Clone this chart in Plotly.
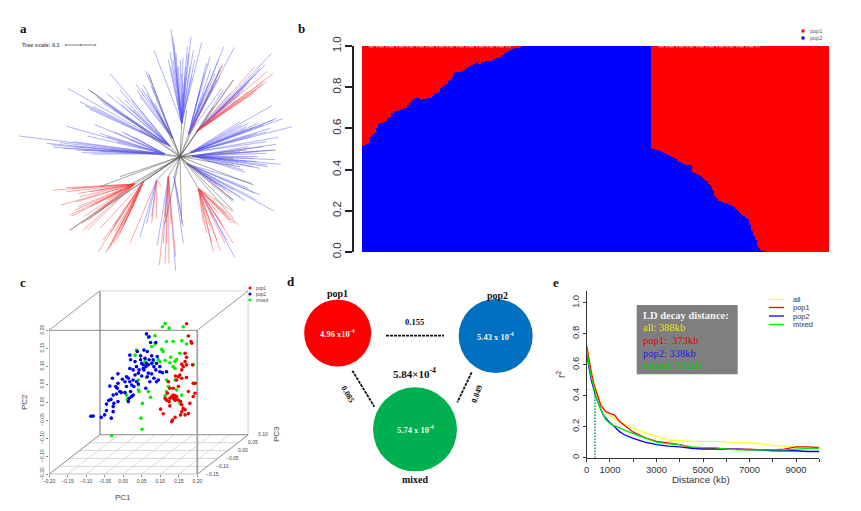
import plotly.graph_objects as go

W, H = 861, 511
SERIF = "Liberation Serif"
SANS = "Liberation Sans"

def fx(p): return p / W
def fy(p): return 1 - p / H

# ---------- panel a: unrooted tree (layout units) ----------
tree_root = (540, 440)
tree_clades = [
 ((545, 340), [(463,123),(513,58),(518,80),(522,100),(510,125),(505,150),(527,180),(541,150),(549,145),(556,170),(562,110),(573,80),(605,97),(584,150),(575,200),(565,130),(552,220),(528,130),(535,170),(545,190),(530,210),(519,150),(512,170),(580,120),(570,170),(557,200),(548,250)], []),
 ((565, 375), [(630,140),(620,160),(612,190),(671,110),(703,112),(665,165),(650,210),(640,230),(665,235),(600,280),(632,178),(655,150),(645,190),(625,220),(660,200),(610,250),(600,240)], [(668,165)]),
 ((590, 365), [(815,130),(795,165),(770,190),(750,215),(700,260),(690,250),(670,240),(780,175),(760,200),(740,225),(720,250),(730,240),(710,270)], [(765,170),(800,185),(820,190),(800,215),(785,225),(760,250),(700,210),(730,230),(790,215),(770,240),(745,245),(715,255),(680,285)]),
 ((570, 428), [(815,287),(830,325),(848,326),(877,350),(835,382),(745,340),(720,335),(740,350),(790,345),(800,365),(820,330),(775,340),(760,352),(735,360),(725,345),(810,355),(770,370),(755,380),(800,395)], []),
 ((578, 438), [(828,403),(828,420),(820,420),(775,425),(775,440),(825,449),(800,465),(842,463),(805,470),(735,487),(730,480),(700,465),(770,455),(790,410),(800,430),(760,445),(740,455),(780,475),(760,470),(720,425),(745,410),(715,455)], []),
 ((562, 462), [(755,520),(765,550),(822,603),(770,570),(735,572),(700,575),(700,540),(650,520),(745,535),(720,560),(780,555),(690,550),(675,535),(660,530)], [(700,570)]),
 ((595, 535), [(704,742),(680,690)], [(640,725),(660,720),(675,700),(700,700),(715,645),(700,605),(670,650),(635,700),(690,630),(620,670),(705,640),(610,640),(650,690),(665,640),(640,620),(680,610),(695,640),(630,650),(655,610)]),
 ((522, 500), [(550,700),(550,650),(545,620)], []),
 ((505, 500), [(527,782),(472,705),(490,700),(495,620)], [(478,765),(495,760),(507,760),(500,700),(527,740),(513,640)]),
 ((470, 510), [(420,680),(440,640),(455,620)], [(390,700),(455,640),(485,530),(470,625)]),
 ((430, 515), [], [(295,725),(318,728),(330,710),(350,690),(370,650),(385,620),(300,655),(340,650),(395,580),(325,720),(340,700),(360,670),(375,640),(310,690),(330,670),(345,665),(395,600)]),
 ((405, 522), [], [(208,662),(250,660),(262,660),(215,618),(225,600),(183,585),(157,541),(200,533),(230,575),(240,560),(270,590),(300,600),(320,570),(200,545),(210,615),(235,590),(250,620),(265,630),(280,610),(235,550),(270,545),(285,580),(310,590),(340,550),(215,535),(300,540)]),
 ((495, 432), [(58,378),(140,400),(155,405),(245,428),(275,432),(300,425),(160,412),(200,349),(262,378),(283,343),(340,365),(400,380),(350,395),(180,398),(220,410),(230,420),(300,370),(320,380),(365,365),(375,370),(390,390),(250,420),(190,415),(220,395)], []),
 ((510, 408), [(203,235),(265,238),(255,287),(270,298),(330,190),(320,250),(360,240),(290,260),(340,300),(380,320),(240,275),(280,290),(300,270),(350,260),(375,270),(395,270),(385,290),(310,280),(365,285),(400,300)], []),
 ((518, 385), [(437,183),(408,223),(425,235),(445,190),(420,260),(450,270),(480,320),(430,225),(440,250),(465,280),(455,230),(410,240)], []),
]
tree_grey_tips = [(270,242),(447,195),(700,210),(660,180),(560,300),(640,290),(700,570),(698,600),(700,625),(380,530),(210,660),(245,640),(300,530),(495,640),(545,640),(740,420),(700,445),(720,470),(600,420),(330,420),(420,360),(470,300),(360,500),(760,525)]
tree_scale_bar = (197, 287, 105)

# ---------- panel b: ancestry proportions ----------
b_pop2 = [.515,.52,.525,.53,.56,.57,.58,.60,.62,.625,
          .625,.63,.635,.65,.655,.675,.68,.685,.685,.69,
          .695,.70,.70,.715,.725,.74,.745,.75,.75,.75,
          .74,.745,.745,.75,.75,.75,.755,.765,.77,.775,
          .795,.80,.81,.815,.83,.835,.85,.87,.875,.875,
          .875,.88,.885,.895,.90,.905,.91,.915,.92,.92,
          .915,.92,.92,.925,.925,.925,.925,.93,.935,.94,
          .94,.945,.955,.965,.97,.975,.98,.985,.99,.995,.995,.998,1,1] + [1.0] * 65 + [
          .50,.50,.495,.495,.49,.485,.48,.475,.47,.465,
          .46,.455,.45,.44,.435,.43,.425,.42,.42,.42,
          .42,.39,.385,.38,.375,.37,.36,.35,.345,.33,
          .32,.30,.27,.26,.25,.25,.245,.24,.24,.235,
          .23,.225,.22,.21,.20,.19,.18,.175,.165,.16,
          .13,.10,.08,.06,.03,.02,.01,.005,.005] + [0.0] * 32
b_pop1 = [round(1 - v, 3) for v in b_pop2]
b_ind = list(range(len(b_pop2)))
b_ticks = [0, .2, .4, .6, .8, 1.0]
b_speckle_ind = [3, 76, None, 152, 204]
b_speckle_val = [.996, .996, None, .996, .996]

# ---------- panel c: PCA ----------
c_blue_pc1 = [-.087,-.081,-.059,-.050,-.045,-.032,-.027,-.027,-.045,-.039,-.033,-.025,-.014,-.027,-.018,-.036,-.016,-.020,-.009,-.005,-.014,-.029,-.014,-.002,.005,.009,.018,.023,.014,.027,.032,.041,.036,.029,.041,.020,.027,.016,.014,.023,.005,.061,.065,.072,.090,.095,.099,.083,.036,.027,.018,.032,.020,.018,.038,.047,.056,.065,.050,.054,.061,.068,.077,.081,.077,.083,.068,.056,.077,.090,.099,.106,.117,.063,.070,.074,.088,.092,.050,.009,.043,.047,.059,.070,.088,.054,.063]
c_blue_pc2 = [-.039,-.038,-.042,-.035,-.023,-.044,-.026,-.012,-.005,.005,.008,-.003,.002,.020,.023,.045,.039,.044,.030,.027,.053,.067,.079,.064,.057,.044,.057,.048,.067,.062,.076,.081,.057,.044,.051,.030,.020,.011,.002,.016,.027,.039,.071,.057,.057,.062,.085,.067,.099,.090,.094,.113,.118,.131,.141,.129,.145,.141,.108,.094,.099,.104,.108,.118,.129,.099,.081,.090,.079,.108,.099,.082,.085,.190,.182,.166,.166,.127,.073,.071,.090,.118,.122,.118,.090,.104,.108]
c_red_pc1 = [.171,.176,.183,.185,.167,.171,.167,.158,.171,.162,.187,.158,.153,.158,.141,.149,.171,.144,.122,.189,.194,.149,.135,.126,.119,.176,.194,.189,.135,.140,.144,.131,.135,.126,.140,.117,.124,.149,.155,.158,.126,.101,.108,.162,.167,.158,.155,.167,.176,.180,.140,.133,.131,.113,.138,.142]
c_red_pc2 = [.218,.184,.169,.164,.136,.125,.113,.106,.104,.099,.104,.090,.076,.067,.073,.071,.069,.062,.057,.053,.053,.044,.039,.039,.025,.030,.025,.016,.020,.018,.016,.016,.011,.011,.006,.006,.002,.006,.002,-.007,-.010,-.019,-.032,-.017,-.021,-.026,-.035,-.035,-.031,-.003,-.042,-.049,-.054,.011,.014,.010]
c_green_pc1 = [.113,.106,.124,.162,.086,.068,.077,.086,.117,.135,.158,.171,.036,.032,.104,.108,.153,.128,.144,.140,.126,.095,.099,.113,.059,.081,.135,.140,.117,.189,.063,.041,.041,.041,.043,.009,.011,.068,.074,.052,.048,.051,-.031,.140,.117,.122,.144,.117,.113,.158,.153]
c_green_pc2 = [.219,.210,.206,.210,.185,.180,.155,.162,.169,.169,.171,.162,.145,.131,.147,.141,.136,.125,.119,.113,.110,.118,.113,.116,.113,.113,.099,.094,.085,.104,.069,.062,.048,.034,.030,.020,.008,.030,.014,-.003,-.044,-.075,-.093,.062,.062,.044,.034,.030,.018,.020,-.003]
c_ticks = [-.20, -.15, -.10, -.05, 0, .05, .10, .15, .20]
c_tick_text = ["\u22120.20","\u22120.15","\u22120.10","\u22120.05","0.00","0.05","0.10","0.15","0.20"]
c_pc3_ticks = [-.15, -.10, -.05, 0, .05, .10]
c_pc3_text = ["\u22120.15","\u22120.10","\u22120.05","0.00","0.05","0.10"]
c_shift_x, c_shift_y = .1375, .110   # oblique offset of the back face

def depth(pc3):
    return (pc3 + .15) / .25

# ---------- panel d: diversity and Fst ----------
d_names = ["pop1", "pop2", "mixed"]
d_pi = ["4.96 x10<sup>-4</sup>", "5.43 x 10<sup>-4</sup>", "5.74 x 10<sup>-4</sup>"]
d_colors = ["#ff0000", "#0070c0", "#00b050"]
d_x = [158, 632, 390]
d_y = [189, 198, 478]
d_size = [67, 74, 84]
d_fst = ["0.155", "0.085", "0.049"]
d_all = "5.84\u00d710<sup>-4</sup>"

# ---------- panel e: LD decay ----------
e_dist = [0,50,100,200,300,400,500,600,700,800,1000,1200,1400,1600,2000,2500,3000,3500,4000,4500,5000,5500,6000,6500,7000,7500,8000,8500,9000,9500,10000]
e_all = [.73,.68,.64,.56,.49,.44,.39,.35,.32,.30,.27,.25,.235,.22,.19,.16,.135,.115,.11,.105,.105,.105,.10,.095,.095,.09,.08,.075,.07,.07,.065]
e_pop1 = [.72,.67,.63,.55,.48,.43,.38,.34,.32,.30,.285,.275,.235,.21,.165,.13,.105,.095,.085,.065,.06,.06,.055,.055,.055,.05,.05,.055,.07,.07,.065]
e_pop2 = [.68,.62,.58,.50,.44,.39,.35,.31,.28,.26,.225,.20,.17,.15,.125,.10,.085,.075,.07,.06,.055,.055,.055,.055,.05,.05,.045,.045,.045,.04,.04]
e_mixed = [.70,.64,.60,.52,.45,.40,.35,.31,.28,.25,.22,.205,.195,.18,.155,.125,.10,.09,.085,.07,.065,.065,.055,.05,.05,.05,.05,.05,.055,.06,.06]
e_names = ["all", "pop1", "pop2", "mixed"]
e_colors = ["#ffff33", "#ff0000", "#0000ff", "#00ee00"]
e_decay = [388, 373, 338, 342]
e_half = .44
e_box_lines = ["LD decay distance:", "all: 388kb", "pop1:  373kb", "pop2: 338kb", "mixed: 342kb"]
e_box_colors = ["#f2f2f2", "#e6e600", "#e60000", "#1a1ae6", "#00cc00"]
e_xticks = [0, 1000, 3000, 5000, 7000, 9000]
e_xtext = ["0", "1000", "3000", "5000", "7000", "9000"]
e_xminor = [2000, 4000, 6000, 8000, 10000]

fig = go.Figure()

# ---- a ----
def seg(pairs):
    xs, ys = [], []
    for (x0, y0), (x1, y1) in pairs:
        xs += [x0, x1, None]
        ys += [y0, y1, None]
    return xs, ys

tree_blue, tree_red, tree_grey = [], [], []
for node, blue, red in tree_clades:
    tree_grey.append((tree_root, node))
    tree_blue += [(node, t) for t in blue]
    tree_red += [(node, t) for t in red]
tree_grey += [(tree_root, t) for t in tree_grey_tips]
for pairs, col, w in [(tree_blue, "rgba(90,90,245,0.6)", .8), (tree_red, "rgba(245,70,70,0.6)", .8), (tree_grey, "rgba(95,95,95,0.7)", .8)]:
    xs, ys = seg(pairs)
    fig.add_trace(go.Scatter(x=xs, y=ys, mode="lines", line=dict(color=col, width=w), xaxis="x", yaxis="y", showlegend=False))
x0, x1, yb = tree_scale_bar
fig.add_trace(go.Scatter(x=[x0, x1, None, x0, x0, None, x1, x1, None, (x0+x1)/2, (x0+x1)/2],
                         y=[yb, yb, None, yb-3, yb+3, None, yb-3, yb+3, None, yb-3, yb+3],
                         mode="lines", line=dict(color="#666", width=.8), xaxis="x", yaxis="y", showlegend=False))

# ---- b ----
fig.add_trace(go.Bar(x=b_ind, y=b_pop2, marker=dict(color="#0000ff", line=dict(width=0)), xaxis="x2", yaxis="y2", showlegend=False))
fig.add_trace(go.Bar(x=b_ind, y=b_pop1, marker=dict(color="#ff0000", line=dict(width=0)), xaxis="x2", yaxis="y2", showlegend=False))
fig.add_trace(go.Scatter(x=b_speckle_ind, y=b_speckle_val, mode="lines", line=dict(color="rgba(255,255,255,0.75)", width=1, dash="5px,2px,2px,1px"),
                         xaxis="x2", yaxis="y2", showlegend=False))

# ---- c ----
def add_c(xs, ys, color, width=1):
    fig.add_trace(go.Scatter(x=xs, y=ys, mode="lines", line=dict(color=color, width=width), xaxis="x3", yaxis="y3", showlegend=False))

for pc3 in c_pc3_ticks:          # floor lines parallel to PC1
    t = depth(pc3)
    add_c([-.2 + c_shift_x*t, .2 + c_shift_x*t], [-.2 + c_shift_y*t, -.2 + c_shift_y*t], "#cfcfcf", .8)
for pc1 in c_ticks:              # floor lines along depth
    add_c([pc1, pc1 + c_shift_x], [-.2, -.2 + c_shift_y], "#cfcfcf", .8)
# back face + connectors + front face
add_c([-.2+c_shift_x, -.2+c_shift_x], [-.2+c_shift_y, .2+c_shift_y], "#a0a0a0", 1.6)
add_c([-.2+c_shift_x, .2+c_shift_x, .2+c_shift_x, -.2+c_shift_x], [.2+c_shift_y, .2+c_shift_y, -.2+c_shift_y, -.2+c_shift_y], "#8c8c8c", .9)
add_c([-.2, -.2+c_shift_x], [.2, .2+c_shift_y], "#8c8c8c", .9)
add_c([.2, .2+c_shift_x], [.2, .2+c_shift_y], "#8c8c8c", .9)
add_c([-.2, -.2+c_shift_x], [-.2, -.2+c_shift_y], "#8c8c8c", .9)
add_c([.2, .2+c_shift_x], [-.2, -.2+c_shift_y], "#8c8c8c", .9)
add_c([-.2, .2, .2, -.2, -.2], [-.2, -.2, .2, .2, -.2], "#8c8c8c", 1.0)
add_c([.2, .2], [-.2, .2], "#a0a0a0", 1.6)
for xs, ys, col in [(c_green_pc1, c_green_pc2, "#00ee00"), (c_blue_pc1, c_blue_pc2, "#0000ee"), (c_red_pc1, c_red_pc2, "#ee0000")]:
    fig.add_trace(go.Scatter(x=xs, y=ys, mode="markers", marker=dict(color=col, size=3.6, line=dict(width=0)), xaxis="x3", yaxis="y3", showlegend=False))

# ---- d ----
d_links = [((303, 197), (477, 197)), ((202, 302), (268, 410)), ((560, 307), (517, 397))]
xs, ys = seg(d_links)
fig.add_trace(go.Scatter(x=xs, y=ys, mode="lines", line=dict(color="#111", width=1.8, dash="3px,1px"), xaxis="x4", yaxis="y4", showlegend=False))
fig.add_trace(go.Scatter(x=d_x, y=d_y, mode="markers", marker=dict(color=d_colors, size=d_size, opacity=1, line=dict(width=0)), xaxis="x4", yaxis="y4", showlegend=False))

# ---- e ----
for name, vals, col in zip(e_names, [e_all, e_pop1, e_pop2, e_mixed], e_colors):
    fig.add_trace(go.Scatter(x=e_dist, y=vals, mode="lines", name=name, line=dict(color=col, width=1.3), xaxis="x5", yaxis="y5", showlegend=False))
for d, col in zip(e_decay, e_colors):
    fig.add_trace(go.Scatter(x=[d, d], y=[0, e_half], mode="lines", line=dict(color=col if col != "#ffff33" else "#d8d860", width=.8, dash="1px,2px"), xaxis="x5", yaxis="y5", showlegend=False))
fig.add_trace(go.Scatter(x=[0, 388], y=[e_half, e_half], mode="lines", line=dict(color="#a0a070", width=.8, dash="1px,2px"), xaxis="x5", yaxis="y5", showlegend=False))

# ---- legend keys on a pixel overlay ----
def key(xs, ys, **kw):
    fig.add_trace(go.Scatter(x=xs, y=ys, xaxis="x6", yaxis="y6", showlegend=False, **kw))

for y, col in [(31, "#ff0000"), (38, "#0000ff")]:
    key([803], [y], mode="markers", marker=dict(color=col, size=3, symbol="square", line=dict(width=0)))
for y, col in [(288, "#ee0000"), (294, "#0000ee"), (300, "#00ee00")]:
    key([250], [y], mode="markers", marker=dict(color=col, size=3, line=dict(width=0)))
for y, col in zip([299.5, 307.5, 316, 324.5], e_colors):
    key([769, 784], [y, y], mode="lines", line=dict(color=col, width=1.3))

ann = []
def text(x, y, s, size, color="#111", font=SANS, bold=False, angle=0, xanchor="center", xref="paper", yref="paper"):
    if xref == "paper":
        x, y = fx(x), fy(y)
    if bold:
        s = "<b>" + s + "</b>"
    ann.append(dict(x=x, y=y, xref=xref, yref=yref, text=s, showarrow=False, xanchor=xanchor, yanchor="middle",
                    textangle=angle, align="left", font=dict(size=size, color=color, family=font)))

for letter, x, y in [("a", 23, 29), ("b", 301, 28), ("c", 23, 282), ("d", 291, 281), ("e", 556, 282)]:
    text(x, y, letter, 13, "#111", SERIF, True)
text(20, 45, "Tree scale: 0.1", 5.5, "#555", SANS, True, xanchor="left")
text(808, 31, "pop1", 5.5, "#555", xanchor="left")
text(808, 38, "pop2", 5.5, "#555", xanchor="left")
text(254, 288.5, "pop1", 4.5, "#444", xanchor="left")
text(254, 294.5, "pop2", 4.5, "#444", xanchor="left")
text(254, 300, "mixed", 4.5, "#444", xanchor="left")
text(122.5, 497, "PC1", 8, "#444")
text(24, 402, "PC2", 8, "#444", angle=-90)
text(276, 434, "PC3", 8, "#444", angle=-90)
for s, pc3 in zip(c_pc3_text, c_pc3_ticks):
    t = depth(pc3)
    px_ = 10 + (562 + 153*t + 47) / 3 - 1
    py_ = 270 + (613 - 121*t) / 3
    text(px_, py_, s, 5, "#444")
# d labels
for name, x, y in [("pop1", 157, 70), ("pop2", 637, 77), ("mixed", 392, 627)]:
    text(x, y, name, 10, "#111", SERIF, True, xref="x4", yref="y4")
for s, x, y in zip(d_pi, d_x, d_y):
    text(x, y, s, 8.5, "#f4f4f4", SERIF, True, xref="x4", yref="y4")
text(388, 155, d_fst[0], 8.5, "#111", SERIF, True, xref="x4", yref="y4")
text(189, 372, d_fst[1], 8, "#111", SERIF, True, angle=60, xref="x4", yref="y4")
text(575, 373, d_fst[2], 8, "#111", SERIF, True, angle=-70, xref="x4", yref="y4")
text(388, 310, d_all, 11, "#111", SERIF, True, xref="x4", yref="y4")
# e labels
for name, y in zip(e_names, [299.5, 307.5, 316, 324.5]):
    text(791, y, name, 7.5, "#333", xanchor="left")
for s, col, y in zip(e_box_lines, e_box_colors, [315, 327.5, 340, 353, 365.5]):
    text(641, y, s, 10.5, col, SERIF, s.startswith("LD"), xanchor="left")
text(701, 479, "Distance (kb)", 9.8, "#333")
text(561, 375, "r<sup>2</sup>", 10, "#333", angle=-90)

shapes = [dict(type="rect", xref="paper", yref="paper", x0=fx(636.7), x1=fx(737.7), y0=fy(374.3), y1=fy(305),
               fillcolor="#7f7f7f", line=dict(width=0), layer="below")]

def hidden(**kw):
    return dict(visible=False, fixedrange=True, automargin=False, **kw)

tick_c = dict(tickfont=dict(size=5, color="#444", family=SANS), ticks="outside", ticklen=2, tickcolor="#888", tickwidth=.6,
              showgrid=False, zeroline=False, showline=False, automargin=False)

fig.update_layout(
    template="none",
    width=W, height=H, autosize=False, margin=dict(l=0, r=0, t=0, b=0, pad=0),
    paper_bgcolor="white", plot_bgcolor="rgba(0,0,0,0)", showlegend=False, hovermode=False,
    barmode="stack", bargap=0, shapes=shapes, annotations=ann,
    # a
    xaxis=hidden(domain=[0, 300/W], range=[0, 900]),
    yaxis=hidden(domain=[fy(280), fy(10)], range=[810, 0]),
    # b
    xaxis2=dict(visible=False, domain=[fx(362), fx(829)], range=[-.5, len(b_ind)-.5], anchor="y2", automargin=False),
    yaxis2=dict(domain=[fy(252), fy(46)], range=[0, 1], anchor="free", position=fx(353), tickvals=b_ticks,
                ticktext=["0.0","0.2","0.4","0.6","0.8","1.0"], tickangle=-90, ticks="outside", ticklen=7, tickwidth=1.6,
                tickcolor="#222", showline=True, linewidth=1.6, linecolor="#222", showgrid=False, zeroline=False, automargin=False,
                tickfont=dict(size=11.5, color="#333", family=SANS)),
    # c
    xaxis3=dict(domain=[fx(49), fx(248.3)], range=[-.2, .3375], anchor="y3", tickvals=c_ticks, ticktext=c_tick_text, **tick_c),
    yaxis3=dict(domain=[fy(474.3), fy(290.7)], range=[-.2, .31], anchor="x3", tickvals=c_ticks, ticktext=c_tick_text, tickangle=-90, **tick_c),
    # d
    xaxis4=hidden(domain=[fx(285), fx(535)], range=[0, 750], anchor="y4"),
    yaxis4=hidden(domain=[fy(510), fy(270)], range=[720, 0], anchor="x4"),
    # e
    xaxis5=dict(domain=[fx(586.7), fx(819.3)], range=[0, 10000], anchor="y5", tickvals=e_xticks, ticktext=e_xtext, ticks="outside", automargin=False,
                ticklen=3, tickwidth=.8, tickcolor="#333", showline=True, linewidth=.9, linecolor="#333", showgrid=False, zeroline=False,
                minor=dict(tickvals=e_xminor, ticks="outside", ticklen=3, tickwidth=.8, tickcolor="#333", showgrid=False),
                tickfont=dict(size=9.5, color="#333", family=SANS)),
    yaxis5=dict(domain=[fy(457.7), fy(290.5)], range=[0, 1.08], anchor="x5", tickvals=b_ticks, ticktext=["0","0.2","0.4","0.6","0.8","1.0"], automargin=False,
                tickangle=-90, ticks="outside", ticklen=3, tickwidth=.8, tickcolor="#333", showline=True, linewidth=.9, linecolor="#333",
                showgrid=False, zeroline=False, tickfont=dict(size=9.5, color="#333", family=SANS)),
    # pixel overlay for legend keys
    xaxis6=hidden(domain=[0, 1], range=[0, W], anchor="y6"),
    yaxis6=hidden(domain=[0, 1], range=[H, 0], anchor="x6"),
)

fig.write_html("out.html", config={"displayModeBar": False},
               post_script="document.body.style.margin='0';document.documentElement.style.overflow='hidden';")
